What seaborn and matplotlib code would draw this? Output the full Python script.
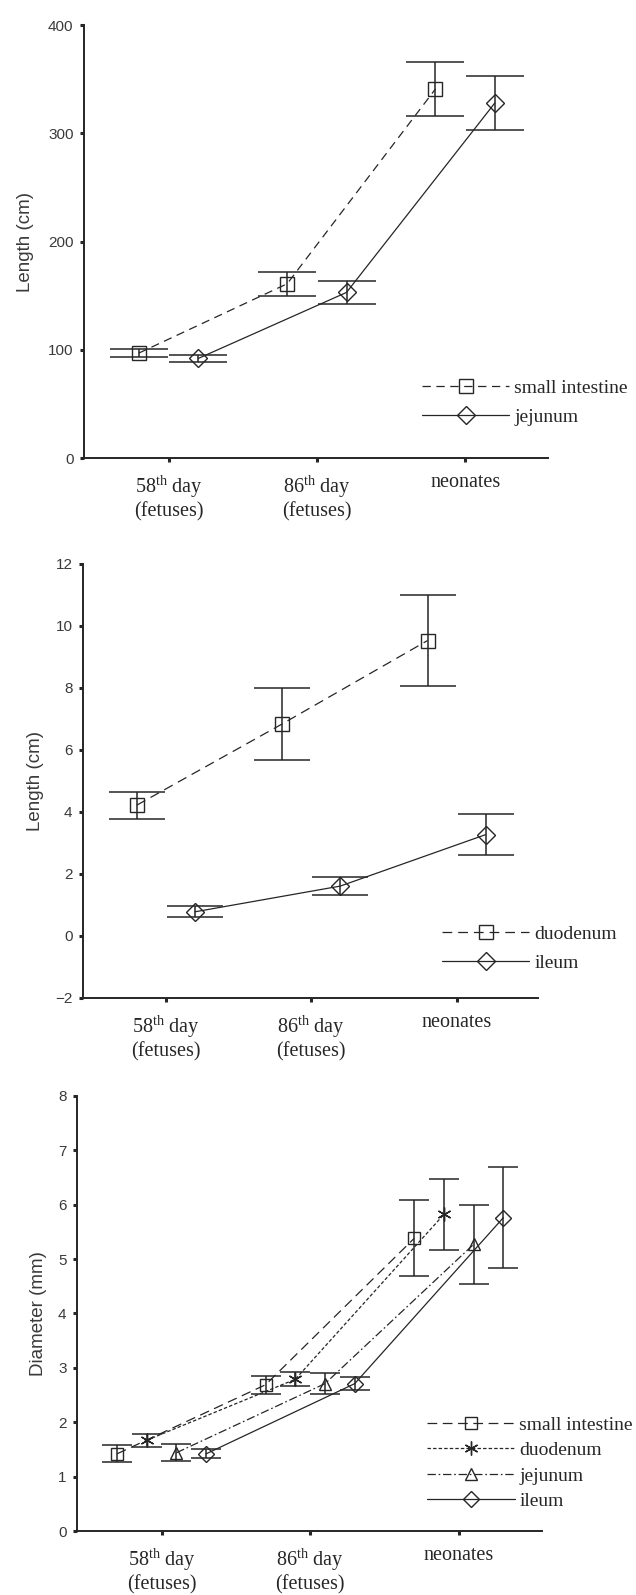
import numpy as np
import pandas as pd
import matplotlib
matplotlib.use('Agg')
import matplotlib.pyplot as plt
import seaborn as sns

# x axis categories
stages = ['58$^{\\mathrm{th}}$ day\n(fetuses)', '86$^{\\mathrm{th}}$ day\n(fetuses)', 'neonates']

# panel 1 - length (cm)
si_len = [97, 161, 341]
si_len_err = [4, 11, 25]
jej_len = [92, 153, 328]
jej_len_err = [3, 11, 25]

# panel 2 - length (cm)
duo_len = [4.22, 6.84, 9.53]
duo_len_err = [0.43, 1.16, 1.47]
ile_len = [0.78, 1.61, 3.27]
ile_len_err = [0.18, 0.29, 0.66]

# panel 3 - diameter (mm)
si_dia = [1.42, 2.69, 5.38]
si_dia_err = [0.155, 0.165, 0.70]
duo_dia = [1.67, 2.79, 5.82]
duo_dia_err = [0.12, 0.13, 0.645]
jej_dia = [1.44, 2.71, 5.27]
jej_dia_err = [0.155, 0.19, 0.73]
ile_dia = [1.42, 2.71, 5.76]
ile_dia_err = [0.085, 0.12, 0.93]

sns.set_style('ticks')
plt.rcParams['font.family'] = ['Liberation Sans', 'DejaVu Sans']
plt.rcParams['mathtext.fontset'] = 'custom'
plt.rcParams['mathtext.rm'] = 'Liberation Serif'
plt.rcParams['lines.scale_dashes'] = False

INK = '#262626'
tick_font = {'family': 'Liberation Serif', 'size': 14.5}
leg_font = {'family': 'Liberation Serif', 'size': 14}

fig = plt.figure(figsize=(6.36, 15.95), dpi=100)
ax1 = fig.add_axes([0.132, 0.7128, 0.730, 0.2715])
ax2 = fig.add_axes([0.1305, 0.3743, 0.7154, 0.2721])
ax3 = fig.add_axes([0.121, 0.0401, 0.731, 0.2728])

base = np.arange(1, 4)


def draw_series(ax, y, err, offset, marker, ls, ms, cap, label):
    xs = base + offset
    df = pd.DataFrame({'x': xs, 'y': y})
    sns.lineplot(data=df, x='x', y='y', ax=ax, color=INK, lw=0.9, linestyle=ls,
                 marker=marker, markersize=ms, mfc='none', mec=INK, mew=1.0,
                 label=label)
    line = ax.lines[-1]
    ax.errorbar(xs, y, yerr=err, fmt='none', ecolor=INK, elinewidth=1.1,
                capsize=cap, capthick=1.1)
    return line


def style_axis(ax, ylim, yticks, ylabel, labelpad):
    sns.despine(ax=ax)
    ax.set_xlim(0.43, 3.56)
    ax.set_ylim(*ylim)
    ax.set_yticks(yticks)
    ax.set_xticks(base)
    ax.set_xticklabels(stages, fontdict=tick_font, color=INK, linespacing=1.1)
    ax.set_xlabel('')
    ax.set_ylabel(ylabel, fontsize=13.5, color='#3a3a3a', labelpad=labelpad)
    ax.tick_params(axis='y', labelsize=11, labelcolor='#3a3a3a', length=3,
                   width=2.2, color=INK, pad=4.5)
    ax.tick_params(axis='x', length=3, width=2.2, color=INK, pad=8)
    for s in ['left', 'bottom']:
        ax.spines[s].set_linewidth(1.4)
        ax.spines[s].set_color(INK)


def add_legend(ax, handles, labels, anchor, spacing):
    ax.legend(handles, labels, loc='center left', bbox_to_anchor=anchor,
              frameon=False, handlelength=4.5, handletextpad=0.25, borderpad=0,
              borderaxespad=0, labelspacing=spacing, prop=leg_font)


# panel 1
h1 = draw_series(ax1, si_len, si_len_err, -0.2, 's', (0, (6, 4)), 10, 21, 'small intestine')
h2 = draw_series(ax1, jej_len, jej_len_err, 0.2, 'D', '-', 9, 21, 'jejunum')
style_axis(ax1, (0, 400), [0, 100, 200, 300, 400], 'Length (cm)', 10)
add_legend(ax1, [h1, h2], ['small intestine', 'jejunum'], (0.728, 0.128), 0.6)

# panel 2
h1 = draw_series(ax2, duo_len, duo_len_err, -0.2, 's', (0, (7, 4.3)), 10, 20, 'duodenum')
h2 = draw_series(ax2, ile_len, ile_len_err, 0.2, 'D', '-', 9, 20, 'ileum')
style_axis(ax2, (-2, 12), list(range(-2, 13, 2)), 'Length (cm)', 8)
add_legend(ax2, [h1, h2], ['duodenum', 'ileum'], (0.789, 0.114), 0.6)

# panel 3
h1 = draw_series(ax3, si_dia, si_dia_err, -0.3, 's', (0, (7, 4)), 9, 11, 'small intestine')
h2 = draw_series(ax3, duo_dia, duo_dia_err, -0.1, (6, 2, 0), (0, (2.5, 1.5)), 10, 11, 'duodenum')
h3 = draw_series(ax3, jej_dia, jej_dia_err, 0.1, '^', (0, (6, 2, 1.2, 2)), 9, 11, 'jejunum')
h4 = draw_series(ax3, ile_dia, ile_dia_err, 0.3, 'D', '-', 8.5, 11, 'ileum')
style_axis(ax3, (0, 8), list(range(0, 9)), 'Diameter (mm)', 8)
add_legend(ax3, [h1, h2, h3, h4], ['small intestine', 'duodenum', 'jejunum', 'ileum'],
           (0.753, 0.156), 0.4)

fig.savefig('out.png', dpi=100)
